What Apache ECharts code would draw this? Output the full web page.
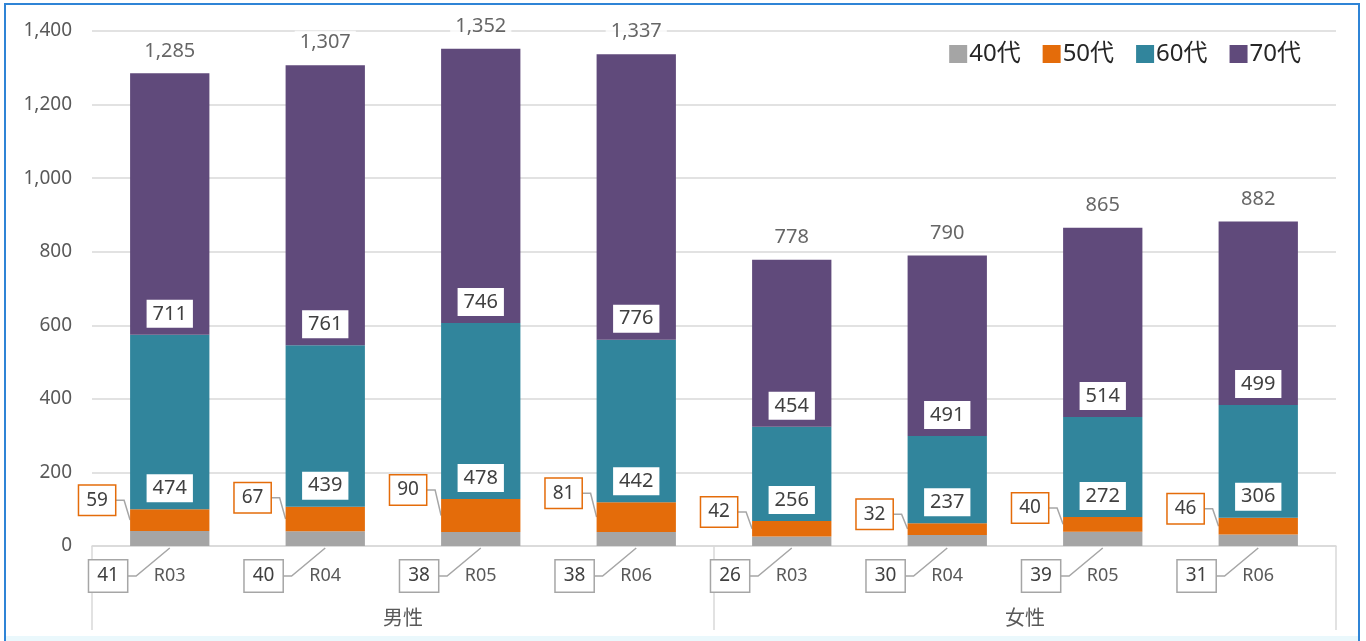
<!DOCTYPE html>
<html>
<head>
<meta charset="utf-8">
<script src="https://cdn.jsdelivr.net/npm/echarts@6/dist/echarts.min.js"></script>
<style>
html,body{margin:0;padding:0;background:#fff;}
#wrap{position:relative;width:1366px;height:641px;overflow:hidden;}
#chart{position:absolute;left:0;top:0;width:1366px;height:641px;}
#frame{position:absolute;left:4px;top:3px;width:1356px;height:640px;border:2px solid #2f84d6;box-sizing:border-box;pointer-events:none;}
#band{position:absolute;left:6px;top:636px;width:1352px;height:5px;background:#eaf8fc;pointer-events:none;}
</style>
</head>
<body>
<div id="wrap"><div id="chart"></div><div id="band"></div><div id="frame"></div></div>
<script>
const categories = ['R03','R04','R05','R06','R03','R04','R05','R06'];
const groups = ['男性','女性'];
const age40 = [41,40,38,38,26,30,39,31];
const age50 = [59,67,90,81,42,32,40,46];
const age60 = [474,439,478,442,256,237,272,306];
const age70 = [711,761,746,776,454,491,514,499];
const totals = [1285,1307,1352,1337,778,790,865,882];
const seriesNames = ['40代','50代','60代','70代'];
const yTicks = {min:0, max:1400, interval:200};

const FONT = "'Noto Sans','Noto Sans CJK JP',sans-serif";
const colors = ['#a5a5a5','#e46c0a','#31859c','#604a7b'];
const BAR_RATIO = 0.51;
const OFF40 = {dx:-22, dy:30};
const OFF50 = {dx:-33, dy:-9};
const HALF_BOX = 19;

const chart = echarts.init(document.getElementById('chart'));

const boxLabel = (border) => ({
  show:true,
  fontFamily:FONT, fontSize:19, color:'#404040',
  backgroundColor:'#fff',
  borderColor:border, borderWidth:border ? 1.5 : 0,
  padding:[5,7]
});

const lineStyle = {stroke:'#a6a6a6', lineWidth:1.5, fill:null};

const option = {
  animation:false,
  textStyle:{fontFamily:FONT},
  legend:{
    data:seriesNames,
    right:60, top:37,
    itemWidth:18, itemHeight:18, itemGap:22,
    icon:'rect',
    textStyle:{fontFamily:FONT, fontSize:24, color:'#262626', padding:[0,0,0,-3]}
  },
  grid:{left:92, right:30, top:31, bottom:95},
  xAxis:[{
    type:'category', data:categories,
    axisLine:{show:true, lineStyle:{color:'#d9d9d9', width:1.5}},
    axisTick:{show:false},
    axisLabel:{fontFamily:FONT, fontSize:18, color:'#595959', margin:21, interval:0}
  },{
    type:'category', data:groups, position:'bottom',
    axisLine:{show:false},
    axisTick:{show:true, length:84, interval:0, lineStyle:{color:'#d9d9d9', width:1.5}},
    axisLabel:{fontFamily:FONT, fontSize:20, color:'#595959', margin:63, interval:0}
  }],
  yAxis:{
    type:'value', min:yTicks.min, max:yTicks.max, interval:yTicks.interval,
    axisLine:{show:false}, axisTick:{show:false},
    splitLine:{lineStyle:{color:'#d9d9d9', width:1.5}},
    axisLabel:{fontFamily:FONT, fontSize:19, color:'#595959', margin:20,
      formatter:v=>v.toLocaleString('en-US')}
  },
  series:[
    {
      name:seriesNames[0], type:'bar', stack:'s', data:age40, barWidth:(BAR_RATIO*100)+'%',
      itemStyle:{color:colors[0]},
      label:Object.assign(boxLabel('#a6a6a6'), {position:'inside', padding:[6,8]}),
      labelLayout:p=>({x:p.rect.x + OFF40.dx, y:p.rect.y + p.rect.height + OFF40.dy, align:'center', verticalAlign:'middle'})
    },
    {
      name:seriesNames[1], type:'bar', stack:'s', data:age50,
      itemStyle:{color:colors[1]},
      label:Object.assign(boxLabel('#e46c0a'), {position:'inside'}),
      labelLayout:p=>({x:p.rect.x + OFF50.dx, y:p.rect.y + OFF50.dy, align:'center', verticalAlign:'middle'})
    },
    {
      name:seriesNames[2], type:'bar', stack:'s', data:age60,
      itemStyle:{color:colors[2]},
      label:Object.assign(boxLabel(null), {position:'insideBottom', distance:7, fontSize:20, padding:[4,6]})
    },
    {
      name:seriesNames[3], type:'bar', stack:'s', data:age70,
      itemStyle:{color:colors[3]},
      label:Object.assign(boxLabel(null), {position:'insideBottom', distance:7, fontSize:20, padding:[4,6]})
    },
    {
      name:'合計', type:'scatter', data:totals, symbolSize:1,
      itemStyle:{color:'transparent'}, silent:true, z:5,
      label:{show:true, position:'top', distance:10, fontFamily:FONT, fontSize:20, color:'#404040',
        backgroundColor:'#fff', padding:[2,5],
        formatter:p=>p.value.toLocaleString('en-US')}
    },
    {
      name:'leader', type:'custom', silent:true, z:1,
      data:categories.map((c,i)=>[i, age40[i], age50[i]]),
      renderItem:(params, api)=>{
        const i = api.value(0);
        const base = api.coord([i, 0]);
        const top40 = api.coord([i, api.value(1)]);
        const top50 = api.coord([i, api.value(1) + api.value(2)]);
        const bw = api.size([1, 0])[0] * BAR_RATIO;
        const left = base[0] - bw / 2;
        const c40 = [left + OFF40.dx, base[1] + OFF40.dy];
        const c50 = [left + OFF50.dx, top50[1] + OFF50.dy];
        return {type:'group', children:[
          {type:'polyline', shape:{points:[[c40[0]+HALF_BOX, c40[1]],[c40[0]+HALF_BOX+9, c40[1]],[base[0], base[1]+2]]}, style:lineStyle},
          {type:'polyline', shape:{points:[[c50[0]+HALF_BOX-1, c50[1]],[c50[0]+HALF_BOX+8, c50[1]],[left, (top40[1]+top50[1])/2]]}, style:lineStyle}
        ]};
      }
    }
  ]
};
chart.setOption(option);
</script>
</body>
</html>
